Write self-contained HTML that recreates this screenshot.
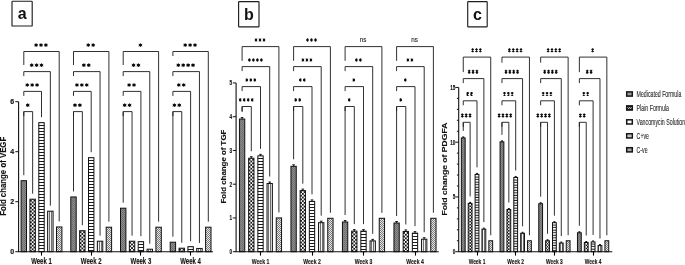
<!DOCTYPE html><html><head><meta charset="utf-8"><style>html,body{margin:0;padding:0;background:#fff;width:685px;height:265px;overflow:hidden;}svg{display:block;filter:grayscale(1)}</style></head><body>
<svg width="685" height="265" viewBox="0 0 685 265" font-family='"Liberation Sans", sans-serif'>
<defs><pattern id="q1" x="0" y="0" width="2" height="2" patternUnits="userSpaceOnUse"><rect width="2" height="2" fill="#8c8c8c"/><rect width="1" height="1" fill="#6a6a6a"/><rect x="1" y="1" width="1" height="1" fill="#747474"/></pattern><pattern id="q2" x="31.75" y="199.8" width="3.6" height="3.6" patternUnits="userSpaceOnUse"><rect width="3.6" height="3.6" fill="#161616"/><rect width="1.8" height="1.8" fill="#fff"/><rect x="1.8" y="1.8" width="1.8" height="1.8" fill="#fff"/></pattern><pattern id="q3" x="0" y="123" width="4" height="3" patternUnits="userSpaceOnUse"><rect width="4" height="3" fill="#fff"/><rect y="2" width="4" height="1" fill="#1a1a1a"/></pattern><pattern id="q4" x="50" y="0" width="2" height="4" patternUnits="userSpaceOnUse"><rect width="2" height="4" fill="#f4f4f4"/><rect x="1" width="1" height="4" fill="#707070"/></pattern><pattern id="q5" x="0" y="0" width="2" height="2" patternUnits="userSpaceOnUse"><rect width="2" height="2" fill="#e6e6e6"/><rect width="1" height="1" fill="#7c7c7c"/><rect x="1" y="1" width="1" height="1" fill="#7c7c7c"/></pattern><pattern id="q6" x="0" y="0" width="2" height="2" patternUnits="userSpaceOnUse"><rect width="2" height="2" fill="#8c8c8c"/><rect width="1" height="1" fill="#6a6a6a"/><rect x="1" y="1" width="1" height="1" fill="#747474"/></pattern><pattern id="q7" x="81.45" y="231.3" width="3.6" height="3.6" patternUnits="userSpaceOnUse"><rect width="3.6" height="3.6" fill="#161616"/><rect width="1.8" height="1.8" fill="#fff"/><rect x="1.8" y="1.8" width="1.8" height="1.8" fill="#fff"/></pattern><pattern id="q8" x="0" y="158" width="4" height="3" patternUnits="userSpaceOnUse"><rect width="4" height="3" fill="#fff"/><rect y="2" width="4" height="1" fill="#1a1a1a"/></pattern><pattern id="q9" x="100" y="0" width="2" height="4" patternUnits="userSpaceOnUse"><rect width="2" height="4" fill="#f4f4f4"/><rect x="1" width="1" height="4" fill="#707070"/></pattern><pattern id="q10" x="0" y="0" width="2" height="2" patternUnits="userSpaceOnUse"><rect width="2" height="2" fill="#e6e6e6"/><rect width="1" height="1" fill="#7c7c7c"/><rect x="1" y="1" width="1" height="1" fill="#7c7c7c"/></pattern><pattern id="q11" x="0" y="0" width="2" height="2" patternUnits="userSpaceOnUse"><rect width="2" height="2" fill="#8c8c8c"/><rect width="1" height="1" fill="#6a6a6a"/><rect x="1" y="1" width="1" height="1" fill="#747474"/></pattern><pattern id="q12" x="131.15" y="241.8" width="3.6" height="3.6" patternUnits="userSpaceOnUse"><rect width="3.6" height="3.6" fill="#161616"/><rect width="1.8" height="1.8" fill="#fff"/><rect x="1.8" y="1.8" width="1.8" height="1.8" fill="#fff"/></pattern><pattern id="q13" x="0" y="242" width="4" height="3" patternUnits="userSpaceOnUse"><rect width="4" height="3" fill="#fff"/><rect y="2" width="4" height="1" fill="#1a1a1a"/></pattern><pattern id="q14" x="149" y="0" width="2" height="4" patternUnits="userSpaceOnUse"><rect width="2" height="4" fill="#f4f4f4"/><rect x="1" width="1" height="4" fill="#707070"/></pattern><pattern id="q15" x="0" y="0" width="2" height="2" patternUnits="userSpaceOnUse"><rect width="2" height="2" fill="#e6e6e6"/><rect width="1" height="1" fill="#7c7c7c"/><rect x="1" y="1" width="1" height="1" fill="#7c7c7c"/></pattern><pattern id="q16" x="0" y="0" width="2" height="2" patternUnits="userSpaceOnUse"><rect width="2" height="2" fill="#8c8c8c"/><rect width="1" height="1" fill="#6a6a6a"/><rect x="1" y="1" width="1" height="1" fill="#747474"/></pattern><pattern id="q17" x="180.85" y="248.8" width="3.6" height="3.6" patternUnits="userSpaceOnUse"><rect width="3.6" height="3.6" fill="#161616"/><rect width="1.8" height="1.8" fill="#fff"/><rect x="1.8" y="1.8" width="1.8" height="1.8" fill="#fff"/></pattern><pattern id="q18" x="0" y="247" width="4" height="3" patternUnits="userSpaceOnUse"><rect width="4" height="3" fill="#fff"/><rect y="2" width="4" height="1" fill="#1a1a1a"/></pattern><pattern id="q19" x="199" y="0" width="2" height="4" patternUnits="userSpaceOnUse"><rect width="2" height="4" fill="#f4f4f4"/><rect x="1" width="1" height="4" fill="#707070"/></pattern><pattern id="q20" x="0" y="0" width="2" height="2" patternUnits="userSpaceOnUse"><rect width="2" height="2" fill="#e6e6e6"/><rect width="1" height="1" fill="#7c7c7c"/><rect x="1" y="1" width="1" height="1" fill="#7c7c7c"/></pattern><pattern id="q21" x="0" y="0" width="2" height="2" patternUnits="userSpaceOnUse"><rect width="2" height="2" fill="#8c8c8c"/><rect width="1" height="1" fill="#6a6a6a"/><rect x="1" y="1" width="1" height="1" fill="#747474"/></pattern><pattern id="q22" x="250.4" y="158.81" width="3.6" height="3.6" patternUnits="userSpaceOnUse"><rect width="3.6" height="3.6" fill="#161616"/><rect width="1.8" height="1.8" fill="#fff"/><rect x="1.8" y="1.8" width="1.8" height="1.8" fill="#fff"/></pattern><pattern id="q23" x="0" y="156" width="4" height="3" patternUnits="userSpaceOnUse"><rect width="4" height="3" fill="#fff"/><rect y="2" width="4" height="1" fill="#1a1a1a"/></pattern><pattern id="q24" x="269" y="0" width="2" height="4" patternUnits="userSpaceOnUse"><rect width="2" height="4" fill="#f4f4f4"/><rect x="1" width="1" height="4" fill="#707070"/></pattern><pattern id="q25" x="0" y="0" width="2" height="2" patternUnits="userSpaceOnUse"><rect width="2" height="2" fill="#e6e6e6"/><rect width="1" height="1" fill="#7c7c7c"/><rect x="1" y="1" width="1" height="1" fill="#7c7c7c"/></pattern><pattern id="q26" x="0" y="0" width="2" height="2" patternUnits="userSpaceOnUse"><rect width="2" height="2" fill="#8c8c8c"/><rect width="1" height="1" fill="#6a6a6a"/><rect x="1" y="1" width="1" height="1" fill="#747474"/></pattern><pattern id="q27" x="301.9" y="191.21" width="3.6" height="3.6" patternUnits="userSpaceOnUse"><rect width="3.6" height="3.6" fill="#161616"/><rect width="1.8" height="1.8" fill="#fff"/><rect x="1.8" y="1.8" width="1.8" height="1.8" fill="#fff"/></pattern><pattern id="q28" x="0" y="202" width="4" height="3" patternUnits="userSpaceOnUse"><rect width="4" height="3" fill="#fff"/><rect y="2" width="4" height="1" fill="#1a1a1a"/></pattern><pattern id="q29" x="321" y="0" width="2" height="4" patternUnits="userSpaceOnUse"><rect width="2" height="4" fill="#f4f4f4"/><rect x="1" width="1" height="4" fill="#707070"/></pattern><pattern id="q30" x="0" y="0" width="2" height="2" patternUnits="userSpaceOnUse"><rect width="2" height="2" fill="#e6e6e6"/><rect width="1" height="1" fill="#7c7c7c"/><rect x="1" y="1" width="1" height="1" fill="#7c7c7c"/></pattern><pattern id="q31" x="0" y="0" width="2" height="2" patternUnits="userSpaceOnUse"><rect width="2" height="2" fill="#8c8c8c"/><rect width="1" height="1" fill="#6a6a6a"/><rect x="1" y="1" width="1" height="1" fill="#747474"/></pattern><pattern id="q32" x="353.4" y="231.71" width="3.6" height="3.6" patternUnits="userSpaceOnUse"><rect width="3.6" height="3.6" fill="#161616"/><rect width="1.8" height="1.8" fill="#fff"/><rect x="1.8" y="1.8" width="1.8" height="1.8" fill="#fff"/></pattern><pattern id="q33" x="0" y="232" width="4" height="3" patternUnits="userSpaceOnUse"><rect width="4" height="3" fill="#fff"/><rect y="2" width="4" height="1" fill="#1a1a1a"/></pattern><pattern id="q34" x="372" y="0" width="2" height="4" patternUnits="userSpaceOnUse"><rect width="2" height="4" fill="#f4f4f4"/><rect x="1" width="1" height="4" fill="#707070"/></pattern><pattern id="q35" x="0" y="0" width="2" height="2" patternUnits="userSpaceOnUse"><rect width="2" height="2" fill="#e6e6e6"/><rect width="1" height="1" fill="#7c7c7c"/><rect x="1" y="1" width="1" height="1" fill="#7c7c7c"/></pattern><pattern id="q36" x="0" y="0" width="2" height="2" patternUnits="userSpaceOnUse"><rect width="2" height="2" fill="#8c8c8c"/><rect width="1" height="1" fill="#6a6a6a"/><rect x="1" y="1" width="1" height="1" fill="#747474"/></pattern><pattern id="q37" x="404.9" y="232.05" width="3.6" height="3.6" patternUnits="userSpaceOnUse"><rect width="3.6" height="3.6" fill="#161616"/><rect width="1.8" height="1.8" fill="#fff"/><rect x="1.8" y="1.8" width="1.8" height="1.8" fill="#fff"/></pattern><pattern id="q38" x="0" y="234" width="4" height="3" patternUnits="userSpaceOnUse"><rect width="4" height="3" fill="#fff"/><rect y="2" width="4" height="1" fill="#1a1a1a"/></pattern><pattern id="q39" x="424" y="0" width="2" height="4" patternUnits="userSpaceOnUse"><rect width="2" height="4" fill="#f4f4f4"/><rect x="1" width="1" height="4" fill="#707070"/></pattern><pattern id="q40" x="0" y="0" width="2" height="2" patternUnits="userSpaceOnUse"><rect width="2" height="2" fill="#e6e6e6"/><rect width="1" height="1" fill="#7c7c7c"/><rect x="1" y="1" width="1" height="1" fill="#7c7c7c"/></pattern><pattern id="q41" x="0" y="0" width="2" height="2" patternUnits="userSpaceOnUse"><rect width="2" height="2" fill="#8c8c8c"/><rect width="1" height="1" fill="#6a6a6a"/><rect x="1" y="1" width="1" height="1" fill="#747474"/></pattern><pattern id="q42" x="469.37" y="204.01" width="3.06" height="3.06" patternUnits="userSpaceOnUse"><rect width="3.06" height="3.06" fill="#161616"/><rect width="1.53" height="1.53" fill="#fff"/><rect x="1.53" y="1.53" width="1.53" height="1.53" fill="#fff"/></pattern><pattern id="q43" x="0" y="175" width="4" height="2.55" patternUnits="userSpaceOnUse"><rect width="4" height="2.55" fill="#fff"/><rect y="1.55" width="4" height="1" fill="#1a1a1a"/></pattern><pattern id="q44" x="483" y="0" width="2" height="4" patternUnits="userSpaceOnUse"><rect width="2" height="4" fill="#f4f4f4"/><rect x="1" width="1" height="4" fill="#707070"/></pattern><pattern id="q45" x="0" y="0" width="2" height="2" patternUnits="userSpaceOnUse"><rect width="2" height="2" fill="#e6e6e6"/><rect width="1" height="1" fill="#7c7c7c"/><rect x="1" y="1" width="1" height="1" fill="#7c7c7c"/></pattern><pattern id="q46" x="0" y="0" width="2" height="2" patternUnits="userSpaceOnUse"><rect width="2" height="2" fill="#8c8c8c"/><rect width="1" height="1" fill="#6a6a6a"/><rect x="1" y="1" width="1" height="1" fill="#747474"/></pattern><pattern id="q47" x="508.07" y="210.14" width="3.06" height="3.06" patternUnits="userSpaceOnUse"><rect width="3.06" height="3.06" fill="#161616"/><rect width="1.53" height="1.53" fill="#fff"/><rect x="1.53" y="1.53" width="1.53" height="1.53" fill="#fff"/></pattern><pattern id="q48" x="0" y="178" width="4" height="2.55" patternUnits="userSpaceOnUse"><rect width="4" height="2.55" fill="#fff"/><rect y="1.55" width="4" height="1" fill="#1a1a1a"/></pattern><pattern id="q49" x="522" y="0" width="2" height="4" patternUnits="userSpaceOnUse"><rect width="2" height="4" fill="#f4f4f4"/><rect x="1" width="1" height="4" fill="#707070"/></pattern><pattern id="q50" x="0" y="0" width="2" height="2" patternUnits="userSpaceOnUse"><rect width="2" height="2" fill="#e6e6e6"/><rect width="1" height="1" fill="#7c7c7c"/><rect x="1" y="1" width="1" height="1" fill="#7c7c7c"/></pattern><pattern id="q51" x="0" y="0" width="2" height="2" patternUnits="userSpaceOnUse"><rect width="2" height="2" fill="#8c8c8c"/><rect width="1" height="1" fill="#6a6a6a"/><rect x="1" y="1" width="1" height="1" fill="#747474"/></pattern><pattern id="q52" x="546.76" y="241.35" width="3.06" height="3.06" patternUnits="userSpaceOnUse"><rect width="3.06" height="3.06" fill="#161616"/><rect width="1.53" height="1.53" fill="#fff"/><rect x="1.53" y="1.53" width="1.53" height="1.53" fill="#fff"/></pattern><pattern id="q53" x="0" y="223" width="4" height="2.55" patternUnits="userSpaceOnUse"><rect width="4" height="2.55" fill="#fff"/><rect y="1.55" width="4" height="1" fill="#1a1a1a"/></pattern><pattern id="q54" x="561" y="0" width="2" height="4" patternUnits="userSpaceOnUse"><rect width="2" height="4" fill="#f4f4f4"/><rect x="1" width="1" height="4" fill="#707070"/></pattern><pattern id="q55" x="0" y="0" width="2" height="2" patternUnits="userSpaceOnUse"><rect width="2" height="2" fill="#e6e6e6"/><rect width="1" height="1" fill="#7c7c7c"/><rect x="1" y="1" width="1" height="1" fill="#7c7c7c"/></pattern><pattern id="q56" x="0" y="0" width="2" height="2" patternUnits="userSpaceOnUse"><rect width="2" height="2" fill="#8c8c8c"/><rect width="1" height="1" fill="#6a6a6a"/><rect x="1" y="1" width="1" height="1" fill="#747474"/></pattern><pattern id="q57" x="585.47" y="243.1" width="3.06" height="3.06" patternUnits="userSpaceOnUse"><rect width="3.06" height="3.06" fill="#161616"/><rect width="1.53" height="1.53" fill="#fff"/><rect x="1.53" y="1.53" width="1.53" height="1.53" fill="#fff"/></pattern><pattern id="q58" x="0" y="242" width="4" height="2.55" patternUnits="userSpaceOnUse"><rect width="4" height="2.55" fill="#fff"/><rect y="1.55" width="4" height="1" fill="#1a1a1a"/></pattern><pattern id="q59" x="599" y="0" width="2" height="4" patternUnits="userSpaceOnUse"><rect width="2" height="4" fill="#f4f4f4"/><rect x="1" width="1" height="4" fill="#707070"/></pattern><pattern id="q60" x="0" y="0" width="2" height="2" patternUnits="userSpaceOnUse"><rect width="2" height="2" fill="#e6e6e6"/><rect width="1" height="1" fill="#7c7c7c"/><rect x="1" y="1" width="1" height="1" fill="#7c7c7c"/></pattern></defs>
<rect width="685" height="265" fill="#fff"/>
<rect x="12" y="1.2" width="20.2" height="24.8" rx="0.6" fill="#fff" stroke="#1e1e1e" stroke-width="1.15"/>
<text x="22.1" y="18.8" font-size="16" font-weight="bold" text-anchor="middle" fill="#111">a</text>
<rect x="21.1" y="180.7" width="5.4" height="71" fill="url(#q1)" stroke="#111" stroke-width="1"/>
<rect x="29.95" y="199.2" width="5.4" height="52.5" fill="url(#q2)" stroke="#111" stroke-width="1"/>
<rect x="38.8" y="122.7" width="5.4" height="129" fill="url(#q3)" stroke="#111" stroke-width="1"/>
<rect x="47.65" y="211.2" width="5.4" height="40.5" fill="url(#q4)" stroke="#111" stroke-width="1"/>
<rect x="56.5" y="226.95" width="5.4" height="24.75" fill="url(#q5)" stroke="#111" stroke-width="1"/>
<path d="M23.8 65V51.5H59.2V221.45" stroke="#1a1a1a" stroke-width="0.9" fill="none"/>
<ellipse cx="36.1" cy="45.1" rx="1.36" ry="1.36" fill="#0a0a0a"/>
<path d="M36.1 43.32V46.88M34.32 44.21L37.88 45.99M34.32 45.99L37.88 44.21" stroke="#0a0a0a" stroke-width="0.8" fill="none"/>
<ellipse cx="41" cy="45.1" rx="1.36" ry="1.36" fill="#0a0a0a"/>
<path d="M41 43.32V46.88M39.22 44.21L42.78 45.99M39.22 45.99L42.78 44.21" stroke="#0a0a0a" stroke-width="0.8" fill="none"/>
<ellipse cx="45.9" cy="45.1" rx="1.36" ry="1.36" fill="#0a0a0a"/>
<path d="M45.9 43.32V46.88M44.12 44.21L47.69 45.99M44.12 45.99L47.69 44.21" stroke="#0a0a0a" stroke-width="0.8" fill="none"/>
<path d="M23.8 76.1V71.6H50.35V205.7" stroke="#1a1a1a" stroke-width="0.9" fill="none"/>
<ellipse cx="31.68" cy="65.2" rx="1.36" ry="1.36" fill="#0a0a0a"/>
<path d="M31.68 63.41V66.98M29.89 64.31L33.46 66.09M29.89 66.09L33.46 64.31" stroke="#0a0a0a" stroke-width="0.8" fill="none"/>
<ellipse cx="36.58" cy="65.2" rx="1.36" ry="1.36" fill="#0a0a0a"/>
<path d="M36.58 63.41V66.98M34.79 64.31L38.36 66.09M34.79 66.09L38.36 64.31" stroke="#0a0a0a" stroke-width="0.8" fill="none"/>
<ellipse cx="41.48" cy="65.2" rx="1.36" ry="1.36" fill="#0a0a0a"/>
<path d="M41.48 63.41V66.98M39.69 64.31L43.26 66.09M39.69 66.09L43.26 64.31" stroke="#0a0a0a" stroke-width="0.8" fill="none"/>
<path d="M23.8 95.9V91.4H41.5V117.2" stroke="#1a1a1a" stroke-width="0.9" fill="none"/>
<ellipse cx="27.25" cy="85" rx="1.36" ry="1.36" fill="#0a0a0a"/>
<path d="M27.25 83.22V86.78M25.46 84.11L29.04 85.89M25.46 85.89L29.04 84.11" stroke="#0a0a0a" stroke-width="0.8" fill="none"/>
<ellipse cx="32.15" cy="85" rx="1.36" ry="1.36" fill="#0a0a0a"/>
<path d="M32.15 83.22V86.78M30.36 84.11L33.93 85.89M30.36 85.89L33.93 84.11" stroke="#0a0a0a" stroke-width="0.8" fill="none"/>
<ellipse cx="37.05" cy="85" rx="1.36" ry="1.36" fill="#0a0a0a"/>
<path d="M37.05 83.22V86.78M35.27 84.11L38.83 85.89M35.27 85.89L38.83 84.11" stroke="#0a0a0a" stroke-width="0.8" fill="none"/>
<path d="M23.8 116.1V111.6H32.65V193.7" stroke="#1a1a1a" stroke-width="0.9" fill="none"/>
<ellipse cx="27.73" cy="105.2" rx="1.36" ry="1.36" fill="#0a0a0a"/>
<path d="M27.73 103.41V106.98M25.94 104.31L29.51 106.09M25.94 106.09L29.51 104.31" stroke="#0a0a0a" stroke-width="0.8" fill="none"/>
<path d="M23.8 111.6V175.2" stroke="#1a1a1a" stroke-width="0.9" fill="none"/>
<path d="M41.5 251.7V255.6" stroke="#000" stroke-width="1.1"/>
<text x="41.5" y="263.8" font-size="8.2" font-weight="bold" text-anchor="middle" textLength="20.7" lengthAdjust="spacingAndGlyphs" fill="#111" stroke="#111" stroke-width="0.12">Week 1</text>
<rect x="70.8" y="196.95" width="5.4" height="54.75" fill="url(#q6)" stroke="#111" stroke-width="1"/>
<rect x="79.65" y="230.7" width="5.4" height="21" fill="url(#q7)" stroke="#111" stroke-width="1"/>
<rect x="88.5" y="157.7" width="5.4" height="94" fill="url(#q8)" stroke="#111" stroke-width="1"/>
<rect x="97.35" y="241.2" width="5.4" height="10.5" fill="url(#q9)" stroke="#111" stroke-width="1"/>
<rect x="106.2" y="227.2" width="5.4" height="24.5" fill="url(#q10)" stroke="#111" stroke-width="1"/>
<path d="M73.5 65V51.5H108.9V221.7" stroke="#1a1a1a" stroke-width="0.9" fill="none"/>
<ellipse cx="88.25" cy="45.1" rx="1.36" ry="1.36" fill="#0a0a0a"/>
<path d="M88.25 43.32V46.88M86.47 44.21L90.03 45.99M86.47 45.99L90.03 44.21" stroke="#0a0a0a" stroke-width="0.8" fill="none"/>
<ellipse cx="93.15" cy="45.1" rx="1.36" ry="1.36" fill="#0a0a0a"/>
<path d="M93.15 43.32V46.88M91.37 44.21L94.94 45.99M91.37 45.99L94.94 44.21" stroke="#0a0a0a" stroke-width="0.8" fill="none"/>
<path d="M73.5 76.1V71.6H100.05V235.7" stroke="#1a1a1a" stroke-width="0.9" fill="none"/>
<ellipse cx="83.83" cy="65.2" rx="1.36" ry="1.36" fill="#0a0a0a"/>
<path d="M83.83 63.41V66.98M82.04 64.31L85.61 66.09M82.04 66.09L85.61 64.31" stroke="#0a0a0a" stroke-width="0.8" fill="none"/>
<ellipse cx="88.73" cy="65.2" rx="1.36" ry="1.36" fill="#0a0a0a"/>
<path d="M88.73 63.41V66.98M86.94 64.31L90.51 66.09M86.94 66.09L90.51 64.31" stroke="#0a0a0a" stroke-width="0.8" fill="none"/>
<path d="M73.5 95.9V91.4H91.2V152.2" stroke="#1a1a1a" stroke-width="0.9" fill="none"/>
<ellipse cx="76.95" cy="85" rx="1.36" ry="1.36" fill="#0a0a0a"/>
<path d="M76.95 83.22V86.78M75.16 84.11L78.73 85.89M75.16 85.89L78.73 84.11" stroke="#0a0a0a" stroke-width="0.8" fill="none"/>
<ellipse cx="81.85" cy="85" rx="1.36" ry="1.36" fill="#0a0a0a"/>
<path d="M81.85 83.22V86.78M80.06 84.11L83.63 85.89M80.06 85.89L83.63 84.11" stroke="#0a0a0a" stroke-width="0.8" fill="none"/>
<ellipse cx="86.75" cy="85" rx="1.36" ry="1.36" fill="#0a0a0a"/>
<path d="M86.75 83.22V86.78M84.96 84.11L88.53 85.89M84.96 85.89L88.53 84.11" stroke="#0a0a0a" stroke-width="0.8" fill="none"/>
<path d="M73.5 116.1V111.6H82.35V225.2" stroke="#1a1a1a" stroke-width="0.9" fill="none"/>
<ellipse cx="74.98" cy="105.2" rx="1.36" ry="1.36" fill="#0a0a0a"/>
<path d="M74.98 103.41V106.98M73.19 104.31L76.76 106.09M73.19 106.09L76.76 104.31" stroke="#0a0a0a" stroke-width="0.8" fill="none"/>
<ellipse cx="79.88" cy="105.2" rx="1.36" ry="1.36" fill="#0a0a0a"/>
<path d="M79.88 103.41V106.98M78.09 104.31L81.66 106.09M78.09 106.09L81.66 104.31" stroke="#0a0a0a" stroke-width="0.8" fill="none"/>
<path d="M73.5 111.6V191.45" stroke="#1a1a1a" stroke-width="0.9" fill="none"/>
<path d="M91.5 251.7V255.6" stroke="#000" stroke-width="1.1"/>
<text x="91.2" y="263.8" font-size="8.2" font-weight="bold" text-anchor="middle" textLength="20.7" lengthAdjust="spacingAndGlyphs" fill="#111" stroke="#111" stroke-width="0.12">Week 2</text>
<rect x="120.5" y="208.2" width="5.4" height="43.5" fill="url(#q11)" stroke="#111" stroke-width="1"/>
<rect x="129.35" y="241.2" width="5.4" height="10.5" fill="url(#q12)" stroke="#111" stroke-width="1"/>
<rect x="138.2" y="241.7" width="5.4" height="10" fill="url(#q13)" stroke="#111" stroke-width="1"/>
<rect x="147.05" y="249.2" width="5.4" height="2.5" fill="url(#q14)" stroke="#111" stroke-width="1"/>
<rect x="155.9" y="227.2" width="5.4" height="24.5" fill="url(#q15)" stroke="#111" stroke-width="1"/>
<path d="M123.2 65V51.5H158.6V221.7" stroke="#1a1a1a" stroke-width="0.9" fill="none"/>
<ellipse cx="140.4" cy="45.1" rx="1.36" ry="1.36" fill="#0a0a0a"/>
<path d="M140.4 43.32V46.88M138.62 44.21L142.19 45.99M138.62 45.99L142.19 44.21" stroke="#0a0a0a" stroke-width="0.8" fill="none"/>
<path d="M123.2 76.1V71.6H149.75V243.7" stroke="#1a1a1a" stroke-width="0.9" fill="none"/>
<ellipse cx="133.53" cy="65.2" rx="1.36" ry="1.36" fill="#0a0a0a"/>
<path d="M133.53 63.41V66.98M131.74 64.31L135.31 66.09M131.74 66.09L135.31 64.31" stroke="#0a0a0a" stroke-width="0.8" fill="none"/>
<ellipse cx="138.43" cy="65.2" rx="1.36" ry="1.36" fill="#0a0a0a"/>
<path d="M138.43 63.41V66.98M136.64 64.31L140.21 66.09M136.64 66.09L140.21 64.31" stroke="#0a0a0a" stroke-width="0.8" fill="none"/>
<path d="M123.2 95.9V91.4H140.9V236.2" stroke="#1a1a1a" stroke-width="0.9" fill="none"/>
<ellipse cx="129.1" cy="85" rx="1.36" ry="1.36" fill="#0a0a0a"/>
<path d="M129.1 83.22V86.78M127.32 84.11L130.89 85.89M127.32 85.89L130.89 84.11" stroke="#0a0a0a" stroke-width="0.8" fill="none"/>
<ellipse cx="134" cy="85" rx="1.36" ry="1.36" fill="#0a0a0a"/>
<path d="M134 83.22V86.78M132.22 84.11L135.79 85.89M132.22 85.89L135.79 84.11" stroke="#0a0a0a" stroke-width="0.8" fill="none"/>
<path d="M123.2 116.1V111.6H132.05V235.7" stroke="#1a1a1a" stroke-width="0.9" fill="none"/>
<ellipse cx="124.67" cy="105.2" rx="1.36" ry="1.36" fill="#0a0a0a"/>
<path d="M124.67 103.41V106.98M122.89 104.31L126.46 106.09M122.89 106.09L126.46 104.31" stroke="#0a0a0a" stroke-width="0.8" fill="none"/>
<ellipse cx="129.57" cy="105.2" rx="1.36" ry="1.36" fill="#0a0a0a"/>
<path d="M129.57 103.41V106.98M127.79 104.31L131.36 106.09M127.79 106.09L131.36 104.31" stroke="#0a0a0a" stroke-width="0.8" fill="none"/>
<path d="M123.2 111.6V202.7" stroke="#1a1a1a" stroke-width="0.9" fill="none"/>
<path d="M140.5 251.7V255.6" stroke="#000" stroke-width="1.1"/>
<text x="140.9" y="263.8" font-size="8.2" font-weight="bold" text-anchor="middle" textLength="20.7" lengthAdjust="spacingAndGlyphs" fill="#111" stroke="#111" stroke-width="0.12">Week 3</text>
<rect x="170.2" y="242.2" width="5.4" height="9.5" fill="url(#q16)" stroke="#111" stroke-width="1"/>
<rect x="179.05" y="248.2" width="5.4" height="3.5" fill="url(#q17)" stroke="#111" stroke-width="1"/>
<rect x="187.9" y="246.7" width="5.4" height="5" fill="url(#q18)" stroke="#111" stroke-width="1"/>
<rect x="196.75" y="248.45" width="5.4" height="3.25" fill="url(#q19)" stroke="#111" stroke-width="1"/>
<rect x="205.6" y="227.2" width="5.4" height="24.5" fill="url(#q20)" stroke="#111" stroke-width="1"/>
<path d="M172.9 56V51.5H208.3V221.7" stroke="#1a1a1a" stroke-width="0.9" fill="none"/>
<ellipse cx="185.2" cy="45.1" rx="1.36" ry="1.36" fill="#0a0a0a"/>
<path d="M185.2 43.32V46.88M183.42 44.21L186.99 45.99M183.42 45.99L186.99 44.21" stroke="#0a0a0a" stroke-width="0.8" fill="none"/>
<ellipse cx="190.1" cy="45.1" rx="1.36" ry="1.36" fill="#0a0a0a"/>
<path d="M190.1 43.32V46.88M188.32 44.21L191.89 45.99M188.32 45.99L191.89 44.21" stroke="#0a0a0a" stroke-width="0.8" fill="none"/>
<ellipse cx="195" cy="45.1" rx="1.36" ry="1.36" fill="#0a0a0a"/>
<path d="M195 43.32V46.88M193.22 44.21L196.79 45.99M193.22 45.99L196.79 44.21" stroke="#0a0a0a" stroke-width="0.8" fill="none"/>
<path d="M172.9 76.1V71.6H199.45V242.95" stroke="#1a1a1a" stroke-width="0.9" fill="none"/>
<ellipse cx="178.33" cy="65.2" rx="1.36" ry="1.36" fill="#0a0a0a"/>
<path d="M178.33 63.41V66.98M176.54 64.31L180.11 66.09M176.54 66.09L180.11 64.31" stroke="#0a0a0a" stroke-width="0.8" fill="none"/>
<ellipse cx="183.23" cy="65.2" rx="1.36" ry="1.36" fill="#0a0a0a"/>
<path d="M183.23 63.41V66.98M181.44 64.31L185.01 66.09M181.44 66.09L185.01 64.31" stroke="#0a0a0a" stroke-width="0.8" fill="none"/>
<ellipse cx="188.13" cy="65.2" rx="1.36" ry="1.36" fill="#0a0a0a"/>
<path d="M188.13 63.41V66.98M186.34 64.31L189.91 66.09M186.34 66.09L189.91 64.31" stroke="#0a0a0a" stroke-width="0.8" fill="none"/>
<ellipse cx="193.03" cy="65.2" rx="1.36" ry="1.36" fill="#0a0a0a"/>
<path d="M193.03 63.41V66.98M191.24 64.31L194.81 66.09M191.24 66.09L194.81 64.31" stroke="#0a0a0a" stroke-width="0.8" fill="none"/>
<path d="M172.9 95.9V91.4H190.6V241.2" stroke="#1a1a1a" stroke-width="0.9" fill="none"/>
<ellipse cx="178.8" cy="85" rx="1.36" ry="1.36" fill="#0a0a0a"/>
<path d="M178.8 83.22V86.78M177.02 84.11L180.59 85.89M177.02 85.89L180.59 84.11" stroke="#0a0a0a" stroke-width="0.8" fill="none"/>
<ellipse cx="183.7" cy="85" rx="1.36" ry="1.36" fill="#0a0a0a"/>
<path d="M183.7 83.22V86.78M181.92 84.11L185.49 85.89M181.92 85.89L185.49 84.11" stroke="#0a0a0a" stroke-width="0.8" fill="none"/>
<path d="M172.9 116.1V111.6H181.75V242.7" stroke="#1a1a1a" stroke-width="0.9" fill="none"/>
<ellipse cx="174.38" cy="105.2" rx="1.36" ry="1.36" fill="#0a0a0a"/>
<path d="M174.38 103.41V106.98M172.59 104.31L176.16 106.09M172.59 106.09L176.16 104.31" stroke="#0a0a0a" stroke-width="0.8" fill="none"/>
<ellipse cx="179.28" cy="105.2" rx="1.36" ry="1.36" fill="#0a0a0a"/>
<path d="M179.28 103.41V106.98M177.49 104.31L181.06 106.09M177.49 106.09L181.06 104.31" stroke="#0a0a0a" stroke-width="0.8" fill="none"/>
<path d="M172.9 111.6V236.7" stroke="#1a1a1a" stroke-width="0.9" fill="none"/>
<path d="M190.5 251.7V255.6" stroke="#000" stroke-width="1.1"/>
<text x="190.6" y="263.8" font-size="8.2" font-weight="bold" text-anchor="middle" textLength="20.7" lengthAdjust="spacingAndGlyphs" fill="#111" stroke="#111" stroke-width="0.12">Week 4</text>
<path d="M18.6 101.7V251.7H213" stroke="#111" stroke-width="1.1" fill="none"/>
<path d="M15.3 251.7H18.6" stroke="#111" stroke-width="1"/>
<text x="14.2" y="254.2" font-size="7" font-weight="bold" text-anchor="end" fill="#111" stroke="#111" stroke-width="0.15">0</text>
<path d="M15.3 201.7H18.6" stroke="#111" stroke-width="1"/>
<text x="14.2" y="204.2" font-size="7" font-weight="bold" text-anchor="end" fill="#111" stroke="#111" stroke-width="0.15">2</text>
<path d="M15.3 151.7H18.6" stroke="#111" stroke-width="1"/>
<text x="14.2" y="154.2" font-size="7" font-weight="bold" text-anchor="end" fill="#111" stroke="#111" stroke-width="0.15">4</text>
<path d="M15.3 101.7H18.6" stroke="#111" stroke-width="1"/>
<text x="14.2" y="104.2" font-size="7" font-weight="bold" text-anchor="end" fill="#111" stroke="#111" stroke-width="0.15">6</text>
<text transform="translate(5.8 176.3) rotate(-90)" x="0" y="0" font-size="8.6" font-weight="bold" text-anchor="middle" textLength="79" lengthAdjust="spacingAndGlyphs" fill="#111" stroke="#111" stroke-width="0.12">Fold change of VEGF</text>
<rect x="238.6" y="1.6" width="20.4" height="25.3" rx="0.6" fill="#fff" stroke="#1e1e1e" stroke-width="1.15"/>
<text x="248.8" y="19.6" font-size="16" font-weight="bold" text-anchor="middle" fill="#111">b</text>
<rect x="239.45" y="119.06" width="5.3" height="132.64" fill="url(#q21)" stroke="#111" stroke-width="1"/>
<path d="M242.1 119.06V117.56M240.8 117.56H243.4" stroke="#111" stroke-width="0.95"/>
<rect x="248.65" y="158.21" width="5.3" height="93.49" fill="url(#q22)" stroke="#111" stroke-width="1"/>
<path d="M251.3 158.21V156.71M250 156.71H252.6" stroke="#111" stroke-width="0.95"/>
<rect x="257.85" y="155.85" width="5.3" height="95.85" fill="url(#q23)" stroke="#111" stroke-width="1"/>
<path d="M260.5 155.85V154.35M259.2 154.35H261.8" stroke="#111" stroke-width="0.95"/>
<rect x="267.05" y="183.52" width="5.3" height="68.18" fill="url(#q24)" stroke="#111" stroke-width="1"/>
<path d="M269.7 183.52V182.02M268.4 182.02H271" stroke="#111" stroke-width="0.95"/>
<rect x="276.25" y="217.95" width="5.3" height="33.75" fill="url(#q25)" stroke="#111" stroke-width="1"/>
<path d="M242.1 60.8V46.6H278.9V212.45" stroke="#1a1a1a" stroke-width="0.9" fill="none"/>
<ellipse cx="256" cy="40" rx="0.96" ry="1.32" fill="#0a0a0a"/>
<path d="M256 38.27V41.73M254.74 39.13L257.26 40.87M254.74 40.87L257.26 39.13" stroke="#0a0a0a" stroke-width="0.8" fill="none"/>
<ellipse cx="260" cy="40" rx="0.96" ry="1.32" fill="#0a0a0a"/>
<path d="M260 38.27V41.73M258.74 39.13L261.26 40.87M258.74 40.87L261.26 39.13" stroke="#0a0a0a" stroke-width="0.8" fill="none"/>
<ellipse cx="264" cy="40" rx="0.96" ry="1.32" fill="#0a0a0a"/>
<path d="M264 38.27V41.73M262.74 39.13L265.26 40.87M262.74 40.87L265.26 39.13" stroke="#0a0a0a" stroke-width="0.8" fill="none"/>
<path d="M242.1 71.1V66.6H269.7V176.52" stroke="#1a1a1a" stroke-width="0.9" fill="none"/>
<ellipse cx="249.4" cy="60" rx="0.96" ry="1.32" fill="#0a0a0a"/>
<path d="M249.4 58.27V61.73M248.14 59.13L250.66 60.87M248.14 60.87L250.66 59.13" stroke="#0a0a0a" stroke-width="0.8" fill="none"/>
<ellipse cx="253.4" cy="60" rx="0.96" ry="1.32" fill="#0a0a0a"/>
<path d="M253.4 58.27V61.73M252.14 59.13L254.66 60.87M252.14 60.87L254.66 59.13" stroke="#0a0a0a" stroke-width="0.8" fill="none"/>
<ellipse cx="257.4" cy="60" rx="0.96" ry="1.32" fill="#0a0a0a"/>
<path d="M257.4 58.27V61.73M256.14 59.13L258.66 60.87M256.14 60.87L258.66 59.13" stroke="#0a0a0a" stroke-width="0.8" fill="none"/>
<ellipse cx="261.4" cy="60" rx="0.96" ry="1.32" fill="#0a0a0a"/>
<path d="M261.4 58.27V61.73M260.14 59.13L262.66 60.87M260.14 60.87L262.66 59.13" stroke="#0a0a0a" stroke-width="0.8" fill="none"/>
<path d="M242.1 91.1V86.6H260.5V148.85" stroke="#1a1a1a" stroke-width="0.9" fill="none"/>
<ellipse cx="246.8" cy="80" rx="0.96" ry="1.32" fill="#0a0a0a"/>
<path d="M246.8 78.27V81.73M245.54 79.13L248.06 80.87M245.54 80.87L248.06 79.13" stroke="#0a0a0a" stroke-width="0.8" fill="none"/>
<ellipse cx="250.8" cy="80" rx="0.96" ry="1.32" fill="#0a0a0a"/>
<path d="M250.8 78.27V81.73M249.54 79.13L252.06 80.87M249.54 80.87L252.06 79.13" stroke="#0a0a0a" stroke-width="0.8" fill="none"/>
<ellipse cx="254.8" cy="80" rx="0.96" ry="1.32" fill="#0a0a0a"/>
<path d="M254.8 78.27V81.73M253.54 79.13L256.06 80.87M253.54 80.87L256.06 79.13" stroke="#0a0a0a" stroke-width="0.8" fill="none"/>
<path d="M242.1 111V106.5H251.3V151.21" stroke="#1a1a1a" stroke-width="0.9" fill="none"/>
<ellipse cx="240.2" cy="99.9" rx="0.96" ry="1.32" fill="#0a0a0a"/>
<path d="M240.2 98.17V101.63M238.94 99.03L241.46 100.77M238.94 100.77L241.46 99.03" stroke="#0a0a0a" stroke-width="0.8" fill="none"/>
<ellipse cx="244.2" cy="99.9" rx="0.96" ry="1.32" fill="#0a0a0a"/>
<path d="M244.2 98.17V101.63M242.94 99.03L245.46 100.77M242.94 100.77L245.46 99.03" stroke="#0a0a0a" stroke-width="0.8" fill="none"/>
<ellipse cx="248.2" cy="99.9" rx="0.96" ry="1.32" fill="#0a0a0a"/>
<path d="M248.2 98.17V101.63M246.94 99.03L249.46 100.77M246.94 100.77L249.46 99.03" stroke="#0a0a0a" stroke-width="0.8" fill="none"/>
<ellipse cx="252.2" cy="99.9" rx="0.96" ry="1.32" fill="#0a0a0a"/>
<path d="M252.2 98.17V101.63M250.94 99.03L253.46 100.77M250.94 100.77L253.46 99.03" stroke="#0a0a0a" stroke-width="0.8" fill="none"/>
<path d="M242.1 106.5V112.06" stroke="#1a1a1a" stroke-width="0.9" fill="none"/>
<path d="M260.5 251.7V255.6" stroke="#000" stroke-width="1.1"/>
<text x="260.5" y="263.5" font-size="7.6" font-weight="bold" text-anchor="middle" textLength="17.6" lengthAdjust="spacingAndGlyphs" fill="#111" stroke="#111" stroke-width="0.12">Week 1</text>
<rect x="290.95" y="166.31" width="5.3" height="85.39" fill="url(#q26)" stroke="#111" stroke-width="1"/>
<path d="M293.6 166.31V164.81M292.3 164.81H294.9" stroke="#111" stroke-width="0.95"/>
<rect x="300.15" y="190.61" width="5.3" height="61.09" fill="url(#q27)" stroke="#111" stroke-width="1"/>
<path d="M302.8 190.61V189.11M301.5 189.11H304.1" stroke="#111" stroke-width="0.95"/>
<rect x="309.35" y="201.41" width="5.3" height="50.29" fill="url(#q28)" stroke="#111" stroke-width="1"/>
<path d="M312 201.41V199.91M310.7 199.91H313.3" stroke="#111" stroke-width="0.95"/>
<rect x="318.55" y="222.67" width="5.3" height="29.03" fill="url(#q29)" stroke="#111" stroke-width="1"/>
<path d="M321.2 222.67V221.17M319.9 221.17H322.5" stroke="#111" stroke-width="0.95"/>
<rect x="327.75" y="218.29" width="5.3" height="33.41" fill="url(#q30)" stroke="#111" stroke-width="1"/>
<path d="M293.6 60.8V46.6H330.4V212.79" stroke="#1a1a1a" stroke-width="0.9" fill="none"/>
<ellipse cx="307.5" cy="40" rx="0.96" ry="1.32" fill="#0a0a0a"/>
<path d="M307.5 38.27V41.73M306.24 39.13L308.76 40.87M306.24 40.87L308.76 39.13" stroke="#0a0a0a" stroke-width="0.8" fill="none"/>
<ellipse cx="311.5" cy="40" rx="0.96" ry="1.32" fill="#0a0a0a"/>
<path d="M311.5 38.27V41.73M310.24 39.13L312.76 40.87M310.24 40.87L312.76 39.13" stroke="#0a0a0a" stroke-width="0.8" fill="none"/>
<ellipse cx="315.5" cy="40" rx="0.96" ry="1.32" fill="#0a0a0a"/>
<path d="M315.5 38.27V41.73M314.24 39.13L316.76 40.87M314.24 40.87L316.76 39.13" stroke="#0a0a0a" stroke-width="0.8" fill="none"/>
<path d="M293.6 71.1V66.6H321.2V215.67" stroke="#1a1a1a" stroke-width="0.9" fill="none"/>
<ellipse cx="302.9" cy="60" rx="0.96" ry="1.32" fill="#0a0a0a"/>
<path d="M302.9 58.27V61.73M301.64 59.13L304.16 60.87M301.64 60.87L304.16 59.13" stroke="#0a0a0a" stroke-width="0.8" fill="none"/>
<ellipse cx="306.9" cy="60" rx="0.96" ry="1.32" fill="#0a0a0a"/>
<path d="M306.9 58.27V61.73M305.64 59.13L308.16 60.87M305.64 60.87L308.16 59.13" stroke="#0a0a0a" stroke-width="0.8" fill="none"/>
<ellipse cx="310.9" cy="60" rx="0.96" ry="1.32" fill="#0a0a0a"/>
<path d="M310.9 58.27V61.73M309.64 59.13L312.16 60.87M309.64 60.87L312.16 59.13" stroke="#0a0a0a" stroke-width="0.8" fill="none"/>
<path d="M293.6 91.1V86.6H312V194.41" stroke="#1a1a1a" stroke-width="0.9" fill="none"/>
<ellipse cx="300.3" cy="80" rx="0.96" ry="1.32" fill="#0a0a0a"/>
<path d="M300.3 78.27V81.73M299.04 79.13L301.56 80.87M299.04 80.87L301.56 79.13" stroke="#0a0a0a" stroke-width="0.8" fill="none"/>
<ellipse cx="304.3" cy="80" rx="0.96" ry="1.32" fill="#0a0a0a"/>
<path d="M304.3 78.27V81.73M303.04 79.13L305.56 80.87M303.04 80.87L305.56 79.13" stroke="#0a0a0a" stroke-width="0.8" fill="none"/>
<path d="M293.6 111V106.5H302.8V183.61" stroke="#1a1a1a" stroke-width="0.9" fill="none"/>
<ellipse cx="295.7" cy="99.9" rx="0.96" ry="1.32" fill="#0a0a0a"/>
<path d="M295.7 98.17V101.63M294.44 99.03L296.96 100.77M294.44 100.77L296.96 99.03" stroke="#0a0a0a" stroke-width="0.8" fill="none"/>
<ellipse cx="299.7" cy="99.9" rx="0.96" ry="1.32" fill="#0a0a0a"/>
<path d="M299.7 98.17V101.63M298.44 99.03L300.96 100.77M298.44 100.77L300.96 99.03" stroke="#0a0a0a" stroke-width="0.8" fill="none"/>
<path d="M293.6 106.5V159.31" stroke="#1a1a1a" stroke-width="0.9" fill="none"/>
<path d="M312.5 251.7V255.6" stroke="#000" stroke-width="1.1"/>
<text x="312" y="263.5" font-size="7.6" font-weight="bold" text-anchor="middle" textLength="17.6" lengthAdjust="spacingAndGlyphs" fill="#111" stroke="#111" stroke-width="0.12">Week 2</text>
<rect x="342.45" y="222" width="5.3" height="29.7" fill="url(#q31)" stroke="#111" stroke-width="1"/>
<path d="M345.1 222V220.5M343.8 220.5H346.4" stroke="#111" stroke-width="0.95"/>
<rect x="351.65" y="231.11" width="5.3" height="20.59" fill="url(#q32)" stroke="#111" stroke-width="1"/>
<path d="M354.3 231.11V229.61M353 229.61H355.6" stroke="#111" stroke-width="0.95"/>
<rect x="360.85" y="231.11" width="5.3" height="20.59" fill="url(#q33)" stroke="#111" stroke-width="1"/>
<path d="M363.5 231.11V229.61M362.2 229.61H364.8" stroke="#111" stroke-width="0.95"/>
<rect x="370.05" y="240.9" width="5.3" height="10.8" fill="url(#q34)" stroke="#111" stroke-width="1"/>
<path d="M372.7 240.9V239.4M371.4 239.4H374" stroke="#111" stroke-width="0.95"/>
<rect x="379.25" y="218.29" width="5.3" height="33.41" fill="url(#q35)" stroke="#111" stroke-width="1"/>
<path d="M345.1 60.8V46.6H381.9V212.79" stroke="#1a1a1a" stroke-width="0.9" fill="none"/>
<text x="363" y="42.4" font-size="7.6" text-anchor="middle" textLength="6.6" lengthAdjust="spacingAndGlyphs" fill="#222" stroke="#222" stroke-width="0.12">ns</text>
<path d="M345.1 71.1V66.6H372.7V233.9" stroke="#1a1a1a" stroke-width="0.9" fill="none"/>
<ellipse cx="356.4" cy="60" rx="0.96" ry="1.32" fill="#0a0a0a"/>
<path d="M356.4 58.27V61.73M355.14 59.13L357.66 60.87M355.14 60.87L357.66 59.13" stroke="#0a0a0a" stroke-width="0.8" fill="none"/>
<ellipse cx="360.4" cy="60" rx="0.96" ry="1.32" fill="#0a0a0a"/>
<path d="M360.4 58.27V61.73M359.14 59.13L361.66 60.87M359.14 60.87L361.66 59.13" stroke="#0a0a0a" stroke-width="0.8" fill="none"/>
<path d="M345.1 91.1V86.6H363.5V224.11" stroke="#1a1a1a" stroke-width="0.9" fill="none"/>
<ellipse cx="353.8" cy="80" rx="0.96" ry="1.32" fill="#0a0a0a"/>
<path d="M353.8 78.27V81.73M352.54 79.13L355.06 80.87M352.54 80.87L355.06 79.13" stroke="#0a0a0a" stroke-width="0.8" fill="none"/>
<path d="M345.1 111V106.5H354.3V224.11" stroke="#1a1a1a" stroke-width="0.9" fill="none"/>
<ellipse cx="349.2" cy="99.9" rx="0.96" ry="1.32" fill="#0a0a0a"/>
<path d="M349.2 98.17V101.63M347.94 99.03L350.46 100.77M347.94 100.77L350.46 99.03" stroke="#0a0a0a" stroke-width="0.8" fill="none"/>
<path d="M345.1 106.5V215" stroke="#1a1a1a" stroke-width="0.9" fill="none"/>
<path d="M363.5 251.7V255.6" stroke="#000" stroke-width="1.1"/>
<text x="363.5" y="263.5" font-size="7.6" font-weight="bold" text-anchor="middle" textLength="17.6" lengthAdjust="spacingAndGlyphs" fill="#111" stroke="#111" stroke-width="0.12">Week 3</text>
<rect x="393.95" y="223.01" width="5.3" height="28.69" fill="url(#q36)" stroke="#111" stroke-width="1"/>
<path d="M396.6 223.01V221.51M395.3 221.51H397.9" stroke="#111" stroke-width="0.95"/>
<rect x="403.15" y="231.45" width="5.3" height="20.25" fill="url(#q37)" stroke="#111" stroke-width="1"/>
<path d="M405.8 231.45V229.95M404.5 229.95H407.1" stroke="#111" stroke-width="0.95"/>
<rect x="412.35" y="233.14" width="5.3" height="18.56" fill="url(#q38)" stroke="#111" stroke-width="1"/>
<path d="M415 233.14V231.64M413.7 231.64H416.3" stroke="#111" stroke-width="0.95"/>
<rect x="421.55" y="239.21" width="5.3" height="12.49" fill="url(#q39)" stroke="#111" stroke-width="1"/>
<path d="M424.2 239.21V237.71M422.9 237.71H425.5" stroke="#111" stroke-width="0.95"/>
<rect x="430.75" y="218.29" width="5.3" height="33.41" fill="url(#q40)" stroke="#111" stroke-width="1"/>
<path d="M396.6 60.8V46.6H433.4V212.79" stroke="#1a1a1a" stroke-width="0.9" fill="none"/>
<text x="414.5" y="42.4" font-size="7.6" text-anchor="middle" textLength="6.6" lengthAdjust="spacingAndGlyphs" fill="#222" stroke="#222" stroke-width="0.12">ns</text>
<path d="M396.6 71.1V66.6H424.2V232.21" stroke="#1a1a1a" stroke-width="0.9" fill="none"/>
<ellipse cx="407.9" cy="60" rx="0.96" ry="1.32" fill="#0a0a0a"/>
<path d="M407.9 58.27V61.73M406.64 59.13L409.16 60.87M406.64 60.87L409.16 59.13" stroke="#0a0a0a" stroke-width="0.8" fill="none"/>
<ellipse cx="411.9" cy="60" rx="0.96" ry="1.32" fill="#0a0a0a"/>
<path d="M411.9 58.27V61.73M410.64 59.13L413.16 60.87M410.64 60.87L413.16 59.13" stroke="#0a0a0a" stroke-width="0.8" fill="none"/>
<path d="M396.6 91.1V86.6H415V226.14" stroke="#1a1a1a" stroke-width="0.9" fill="none"/>
<ellipse cx="405.3" cy="80" rx="0.96" ry="1.32" fill="#0a0a0a"/>
<path d="M405.3 78.27V81.73M404.04 79.13L406.56 80.87M404.04 80.87L406.56 79.13" stroke="#0a0a0a" stroke-width="0.8" fill="none"/>
<path d="M396.6 111V106.5H405.8V224.45" stroke="#1a1a1a" stroke-width="0.9" fill="none"/>
<ellipse cx="400.7" cy="99.9" rx="0.96" ry="1.32" fill="#0a0a0a"/>
<path d="M400.7 98.17V101.63M399.44 99.03L401.96 100.77M399.44 100.77L401.96 99.03" stroke="#0a0a0a" stroke-width="0.8" fill="none"/>
<path d="M396.6 106.5V216.01" stroke="#1a1a1a" stroke-width="0.9" fill="none"/>
<path d="M415.5 251.7V255.6" stroke="#000" stroke-width="1.1"/>
<text x="415" y="263.5" font-size="7.6" font-weight="bold" text-anchor="middle" textLength="17.6" lengthAdjust="spacingAndGlyphs" fill="#111" stroke="#111" stroke-width="0.12">Week 4</text>
<path d="M236.1 82.95V251.7H438.8" stroke="#111" stroke-width="1.1" fill="none"/>
<path d="M232.8 251.7H236.1" stroke="#111" stroke-width="1"/>
<text x="232.2" y="254.2" font-size="7" font-weight="bold" text-anchor="end" textLength="2.6" lengthAdjust="spacingAndGlyphs" fill="#111" stroke="#111" stroke-width="0.15">0</text>
<path d="M232.8 217.95H236.1" stroke="#111" stroke-width="1"/>
<text x="232.2" y="220.45" font-size="7" font-weight="bold" text-anchor="end" textLength="2.6" lengthAdjust="spacingAndGlyphs" fill="#111" stroke="#111" stroke-width="0.15">1</text>
<path d="M232.8 184.2H236.1" stroke="#111" stroke-width="1"/>
<text x="232.2" y="186.7" font-size="7" font-weight="bold" text-anchor="end" textLength="2.6" lengthAdjust="spacingAndGlyphs" fill="#111" stroke="#111" stroke-width="0.15">2</text>
<path d="M232.8 150.45H236.1" stroke="#111" stroke-width="1"/>
<text x="232.2" y="152.95" font-size="7" font-weight="bold" text-anchor="end" textLength="2.6" lengthAdjust="spacingAndGlyphs" fill="#111" stroke="#111" stroke-width="0.15">3</text>
<path d="M232.8 116.7H236.1" stroke="#111" stroke-width="1"/>
<text x="232.2" y="119.2" font-size="7" font-weight="bold" text-anchor="end" textLength="2.6" lengthAdjust="spacingAndGlyphs" fill="#111" stroke="#111" stroke-width="0.15">4</text>
<path d="M232.8 82.95H236.1" stroke="#111" stroke-width="1"/>
<text x="232.2" y="85.45" font-size="7" font-weight="bold" text-anchor="end" textLength="2.6" lengthAdjust="spacingAndGlyphs" fill="#111" stroke="#111" stroke-width="0.15">5</text>
<text transform="translate(225.8 166.65) rotate(-90)" x="0" y="0" font-size="7.6" font-weight="bold" text-anchor="middle" textLength="73.9" lengthAdjust="spacingAndGlyphs" fill="#111" stroke="#111" stroke-width="0.12">Fold change of TGF</text>
<rect x="467.7" y="1.6" width="19.5" height="25.3" rx="0.6" fill="#fff" stroke="#1e1e1e" stroke-width="1.15"/>
<text x="477.45" y="19.7" font-size="16" font-weight="bold" text-anchor="middle" fill="#111">c</text>
<rect x="461.36" y="137.93" width="3.8" height="113.77" fill="url(#q41)" stroke="#111" stroke-width="1"/>
<path d="M463.26 137.93V136.93M462.26 136.93H464.26" stroke="#111" stroke-width="0.95"/>
<rect x="468.23" y="203.41" width="3.8" height="48.29" fill="url(#q42)" stroke="#111" stroke-width="1"/>
<path d="M470.13 203.41V202.41M469.13 202.41H471.13" stroke="#111" stroke-width="0.95"/>
<rect x="475.1" y="174.39" width="3.8" height="77.31" fill="url(#q43)" stroke="#111" stroke-width="1"/>
<path d="M477 174.39V173.39M476 173.39H478" stroke="#111" stroke-width="0.95"/>
<rect x="481.97" y="229.14" width="3.8" height="22.56" fill="url(#q44)" stroke="#111" stroke-width="1"/>
<path d="M483.87 229.14V228.14M482.87 228.14H484.87" stroke="#111" stroke-width="0.95"/>
<rect x="488.84" y="240.75" width="3.8" height="10.95" fill="url(#q45)" stroke="#111" stroke-width="1"/>
<path d="M463.26 72.1V57.1H490.74V235.25" stroke="#1a1a1a" stroke-width="0.9" fill="none"/>
<path d="M472.65 48.25V52.35M471.55 49L473.75 51.6M471.55 51.6L473.75 49" stroke="#0a0a0a" stroke-width="1.15" fill="none"/>
<path d="M476.5 48.25V52.35M475.4 49L477.6 51.6M475.4 51.6L477.6 49" stroke="#0a0a0a" stroke-width="1.15" fill="none"/>
<path d="M480.35 48.25V52.35M479.25 49L481.45 51.6M479.25 51.6L481.45 49" stroke="#0a0a0a" stroke-width="1.15" fill="none"/>
<path d="M463.26 83.1V78.6H483.87V222.14" stroke="#1a1a1a" stroke-width="0.9" fill="none"/>
<path d="M469.21 69.75V73.85M468.11 70.5L470.31 73.1M468.11 73.1L470.31 70.5" stroke="#0a0a0a" stroke-width="1.15" fill="none"/>
<path d="M473.06 69.75V73.85M471.96 70.5L474.17 73.1M471.96 73.1L474.17 70.5" stroke="#0a0a0a" stroke-width="1.15" fill="none"/>
<path d="M476.91 69.75V73.85M475.81 70.5L478.01 73.1M475.81 73.1L478.01 70.5" stroke="#0a0a0a" stroke-width="1.15" fill="none"/>
<path d="M463.26 105.3V100.8H477V167.39" stroke="#1a1a1a" stroke-width="0.9" fill="none"/>
<path d="M467.7 91.95V96.05M466.6 92.7L468.81 95.3M466.6 95.3L468.81 92.7" stroke="#0a0a0a" stroke-width="1.15" fill="none"/>
<path d="M471.56 91.95V96.05M470.45 92.7L472.66 95.3M470.45 95.3L472.66 92.7" stroke="#0a0a0a" stroke-width="1.15" fill="none"/>
<path d="M463.26 126.8V122.3H470.13V196.41" stroke="#1a1a1a" stroke-width="0.9" fill="none"/>
<path d="M462.34 113.45V117.55M461.24 114.2L463.44 116.8M461.24 116.8L463.44 114.2" stroke="#0a0a0a" stroke-width="1.15" fill="none"/>
<path d="M466.19 113.45V117.55M465.09 114.2L467.3 116.8M465.09 116.8L467.3 114.2" stroke="#0a0a0a" stroke-width="1.15" fill="none"/>
<path d="M470.04 113.45V117.55M468.94 114.2L471.14 116.8M468.94 116.8L471.14 114.2" stroke="#0a0a0a" stroke-width="1.15" fill="none"/>
<path d="M463.26 122.3V130.93" stroke="#1a1a1a" stroke-width="0.9" fill="none"/>
<path d="M477.5 251.7V255.6" stroke="#000" stroke-width="1.1"/>
<text x="477" y="264.2" font-size="7.6" font-weight="bold" text-anchor="middle" textLength="16.7" lengthAdjust="spacingAndGlyphs" fill="#111" stroke="#111" stroke-width="0.12">Week 1</text>
<rect x="500.06" y="141.87" width="3.8" height="109.83" fill="url(#q46)" stroke="#111" stroke-width="1"/>
<path d="M501.96 141.87V140.87M500.96 140.87H502.96" stroke="#111" stroke-width="0.95"/>
<rect x="506.93" y="209.54" width="3.8" height="42.16" fill="url(#q47)" stroke="#111" stroke-width="1"/>
<path d="M508.83 209.54V208.54M507.83 208.54H509.83" stroke="#111" stroke-width="0.95"/>
<rect x="513.8" y="177.46" width="3.8" height="74.24" fill="url(#q48)" stroke="#111" stroke-width="1"/>
<path d="M515.7 177.46V176.46M514.7 176.46H516.7" stroke="#111" stroke-width="0.95"/>
<rect x="520.67" y="233.3" width="3.8" height="18.4" fill="url(#q49)" stroke="#111" stroke-width="1"/>
<path d="M522.57 233.3V232.3M521.57 232.3H523.57" stroke="#111" stroke-width="0.95"/>
<rect x="527.54" y="240.75" width="3.8" height="10.95" fill="url(#q50)" stroke="#111" stroke-width="1"/>
<path d="M501.96 62.7V57.1H529.44V235.25" stroke="#1a1a1a" stroke-width="0.9" fill="none"/>
<path d="M509.43 48.25V52.35M508.33 49L510.53 51.6M508.33 51.6L510.53 49" stroke="#0a0a0a" stroke-width="1.15" fill="none"/>
<path d="M513.28 48.25V52.35M512.18 49L514.38 51.6M512.18 51.6L514.38 49" stroke="#0a0a0a" stroke-width="1.15" fill="none"/>
<path d="M517.13 48.25V52.35M516.03 49L518.23 51.6M516.03 51.6L518.23 49" stroke="#0a0a0a" stroke-width="1.15" fill="none"/>
<path d="M520.98 48.25V52.35M519.88 49L522.08 51.6M519.88 51.6L522.08 49" stroke="#0a0a0a" stroke-width="1.15" fill="none"/>
<path d="M501.96 83.1V78.6H522.57V226.3" stroke="#1a1a1a" stroke-width="0.9" fill="none"/>
<path d="M505.99 69.75V73.85M504.89 70.5L507.09 73.1M504.89 73.1L507.09 70.5" stroke="#0a0a0a" stroke-width="1.15" fill="none"/>
<path d="M509.84 69.75V73.85M508.74 70.5L510.94 73.1M508.74 73.1L510.94 70.5" stroke="#0a0a0a" stroke-width="1.15" fill="none"/>
<path d="M513.69 69.75V73.85M512.59 70.5L514.79 73.1M512.59 73.1L514.79 70.5" stroke="#0a0a0a" stroke-width="1.15" fill="none"/>
<path d="M517.54 69.75V73.85M516.44 70.5L518.64 73.1M516.44 73.1L518.64 70.5" stroke="#0a0a0a" stroke-width="1.15" fill="none"/>
<path d="M501.96 105.3V100.8H515.7V170.46" stroke="#1a1a1a" stroke-width="0.9" fill="none"/>
<path d="M504.48 91.95V96.05M503.38 92.7L505.58 95.3M503.38 95.3L505.58 92.7" stroke="#0a0a0a" stroke-width="1.15" fill="none"/>
<path d="M508.33 91.95V96.05M507.23 92.7L509.43 95.3M507.23 95.3L509.43 92.7" stroke="#0a0a0a" stroke-width="1.15" fill="none"/>
<path d="M512.18 91.95V96.05M511.08 92.7L513.28 95.3M511.08 95.3L513.28 92.7" stroke="#0a0a0a" stroke-width="1.15" fill="none"/>
<path d="M501.96 126.8V122.3H508.83V202.54" stroke="#1a1a1a" stroke-width="0.9" fill="none"/>
<path d="M499.12 113.45V117.55M498.02 114.2L500.22 116.8M498.02 116.8L500.22 114.2" stroke="#0a0a0a" stroke-width="1.15" fill="none"/>
<path d="M502.97 113.45V117.55M501.87 114.2L504.07 116.8M501.87 116.8L504.07 114.2" stroke="#0a0a0a" stroke-width="1.15" fill="none"/>
<path d="M506.82 113.45V117.55M505.72 114.2L507.92 116.8M505.72 116.8L507.92 114.2" stroke="#0a0a0a" stroke-width="1.15" fill="none"/>
<path d="M510.67 113.45V117.55M509.57 114.2L511.77 116.8M509.57 116.8L511.77 114.2" stroke="#0a0a0a" stroke-width="1.15" fill="none"/>
<path d="M501.96 122.3V134.87" stroke="#1a1a1a" stroke-width="0.9" fill="none"/>
<path d="M515.5 251.7V255.6" stroke="#000" stroke-width="1.1"/>
<text x="515.7" y="264.2" font-size="7.6" font-weight="bold" text-anchor="middle" textLength="16.7" lengthAdjust="spacingAndGlyphs" fill="#111" stroke="#111" stroke-width="0.12">Week 2</text>
<rect x="538.76" y="203.74" width="3.8" height="47.96" fill="url(#q51)" stroke="#111" stroke-width="1"/>
<path d="M540.66 203.74V202.74M539.66 202.74H541.66" stroke="#111" stroke-width="0.95"/>
<rect x="545.63" y="240.75" width="3.8" height="10.95" fill="url(#q52)" stroke="#111" stroke-width="1"/>
<path d="M547.53 240.75V239.75M546.53 239.75H548.53" stroke="#111" stroke-width="0.95"/>
<rect x="552.5" y="222.68" width="3.8" height="29.02" fill="url(#q53)" stroke="#111" stroke-width="1"/>
<path d="M554.4 222.68V221.68M553.4 221.68H555.4" stroke="#111" stroke-width="0.95"/>
<rect x="559.37" y="243.05" width="3.8" height="8.65" fill="url(#q54)" stroke="#111" stroke-width="1"/>
<path d="M561.27 243.05V242.05M560.27 242.05H562.27" stroke="#111" stroke-width="0.95"/>
<rect x="566.24" y="240.75" width="3.8" height="10.95" fill="url(#q55)" stroke="#111" stroke-width="1"/>
<path d="M540.66 62.7V57.1H568.14V235.25" stroke="#1a1a1a" stroke-width="0.9" fill="none"/>
<path d="M548.12 48.25V52.35M547.02 49L549.23 51.6M547.02 51.6L549.23 49" stroke="#0a0a0a" stroke-width="1.15" fill="none"/>
<path d="M551.98 48.25V52.35M550.88 49L553.08 51.6M550.88 51.6L553.08 49" stroke="#0a0a0a" stroke-width="1.15" fill="none"/>
<path d="M555.83 48.25V52.35M554.73 49L556.93 51.6M554.73 51.6L556.93 49" stroke="#0a0a0a" stroke-width="1.15" fill="none"/>
<path d="M559.67 48.25V52.35M558.57 49L560.77 51.6M558.57 51.6L560.77 49" stroke="#0a0a0a" stroke-width="1.15" fill="none"/>
<path d="M540.66 83.1V78.6H561.27V236.05" stroke="#1a1a1a" stroke-width="0.9" fill="none"/>
<path d="M544.69 69.75V73.85M543.59 70.5L545.79 73.1M543.59 73.1L545.79 70.5" stroke="#0a0a0a" stroke-width="1.15" fill="none"/>
<path d="M548.54 69.75V73.85M547.44 70.5L549.64 73.1M547.44 73.1L549.64 70.5" stroke="#0a0a0a" stroke-width="1.15" fill="none"/>
<path d="M552.39 69.75V73.85M551.29 70.5L553.49 73.1M551.29 73.1L553.49 70.5" stroke="#0a0a0a" stroke-width="1.15" fill="none"/>
<path d="M556.24 69.75V73.85M555.14 70.5L557.34 73.1M555.14 73.1L557.34 70.5" stroke="#0a0a0a" stroke-width="1.15" fill="none"/>
<path d="M540.66 105.3V100.8H554.4V215.68" stroke="#1a1a1a" stroke-width="0.9" fill="none"/>
<path d="M543.18 91.95V96.05M542.08 92.7L544.28 95.3M542.08 95.3L544.28 92.7" stroke="#0a0a0a" stroke-width="1.15" fill="none"/>
<path d="M547.03 91.95V96.05M545.93 92.7L548.13 95.3M545.93 95.3L548.13 92.7" stroke="#0a0a0a" stroke-width="1.15" fill="none"/>
<path d="M550.88 91.95V96.05M549.78 92.7L551.98 95.3M549.78 95.3L551.98 92.7" stroke="#0a0a0a" stroke-width="1.15" fill="none"/>
<path d="M540.66 126.8V122.3H547.53V233.75" stroke="#1a1a1a" stroke-width="0.9" fill="none"/>
<path d="M537.82 113.45V117.55M536.72 114.2L538.92 116.8M536.72 116.8L538.92 114.2" stroke="#0a0a0a" stroke-width="1.15" fill="none"/>
<path d="M541.67 113.45V117.55M540.57 114.2L542.77 116.8M540.57 116.8L542.77 114.2" stroke="#0a0a0a" stroke-width="1.15" fill="none"/>
<path d="M545.52 113.45V117.55M544.42 114.2L546.62 116.8M544.42 116.8L546.62 114.2" stroke="#0a0a0a" stroke-width="1.15" fill="none"/>
<path d="M549.37 113.45V117.55M548.27 114.2L550.47 116.8M548.27 116.8L550.47 114.2" stroke="#0a0a0a" stroke-width="1.15" fill="none"/>
<path d="M540.66 122.3V196.74" stroke="#1a1a1a" stroke-width="0.9" fill="none"/>
<path d="M554.5 251.7V255.6" stroke="#000" stroke-width="1.1"/>
<text x="554.4" y="264.2" font-size="7.6" font-weight="bold" text-anchor="middle" textLength="16.7" lengthAdjust="spacingAndGlyphs" fill="#111" stroke="#111" stroke-width="0.12">Week 3</text>
<rect x="577.46" y="232.76" width="3.8" height="18.94" fill="url(#q56)" stroke="#111" stroke-width="1"/>
<path d="M579.36 232.76V231.76M578.36 231.76H580.36" stroke="#111" stroke-width="0.95"/>
<rect x="584.33" y="242.5" width="3.8" height="9.2" fill="url(#q57)" stroke="#111" stroke-width="1"/>
<path d="M586.23 242.5V241.5M585.23 241.5H587.23" stroke="#111" stroke-width="0.95"/>
<rect x="591.2" y="241.95" width="3.8" height="9.75" fill="url(#q58)" stroke="#111" stroke-width="1"/>
<path d="M593.1 241.95V240.95M592.1 240.95H594.1" stroke="#111" stroke-width="0.95"/>
<rect x="598.07" y="245.57" width="3.8" height="6.13" fill="url(#q59)" stroke="#111" stroke-width="1"/>
<path d="M599.97 245.57V244.57M598.97 244.57H600.97" stroke="#111" stroke-width="0.95"/>
<rect x="604.94" y="240.75" width="3.8" height="10.95" fill="url(#q60)" stroke="#111" stroke-width="1"/>
<path d="M579.36 72.1V57.1H606.84V235.25" stroke="#1a1a1a" stroke-width="0.9" fill="none"/>
<path d="M592.6 48.25V52.35M591.5 49L593.7 51.6M591.5 51.6L593.7 49" stroke="#0a0a0a" stroke-width="1.15" fill="none"/>
<path d="M579.36 83.1V78.6H599.97V238.57" stroke="#1a1a1a" stroke-width="0.9" fill="none"/>
<path d="M587.24 69.75V73.85M586.14 70.5L588.34 73.1M586.14 73.1L588.34 70.5" stroke="#0a0a0a" stroke-width="1.15" fill="none"/>
<path d="M591.09 69.75V73.85M589.99 70.5L592.19 73.1M589.99 73.1L592.19 70.5" stroke="#0a0a0a" stroke-width="1.15" fill="none"/>
<path d="M579.36 105.3V100.8H593.1V234.95" stroke="#1a1a1a" stroke-width="0.9" fill="none"/>
<path d="M583.81 91.95V96.05M582.71 92.7L584.91 95.3M582.71 95.3L584.91 92.7" stroke="#0a0a0a" stroke-width="1.15" fill="none"/>
<path d="M587.66 91.95V96.05M586.56 92.7L588.76 95.3M586.56 95.3L588.76 92.7" stroke="#0a0a0a" stroke-width="1.15" fill="none"/>
<path d="M579.36 126.8V122.3H586.23V235.5" stroke="#1a1a1a" stroke-width="0.9" fill="none"/>
<path d="M580.37 113.45V117.55M579.27 114.2L581.47 116.8M579.27 116.8L581.47 114.2" stroke="#0a0a0a" stroke-width="1.15" fill="none"/>
<path d="M584.22 113.45V117.55M583.12 114.2L585.32 116.8M583.12 116.8L585.32 114.2" stroke="#0a0a0a" stroke-width="1.15" fill="none"/>
<path d="M579.36 122.3V225.76" stroke="#1a1a1a" stroke-width="0.9" fill="none"/>
<path d="M593.5 251.7V255.6" stroke="#000" stroke-width="1.1"/>
<text x="593.1" y="264.2" font-size="7.6" font-weight="bold" text-anchor="middle" textLength="16.7" lengthAdjust="spacingAndGlyphs" fill="#111" stroke="#111" stroke-width="0.12">Week 4</text>
<path d="M458.7 87.45V251.7H612.3" stroke="#111" stroke-width="1.1" fill="none"/>
<path d="M455.4 251.7H458.7" stroke="#111" stroke-width="1"/>
<text x="455.4" y="254.2" font-size="7" font-weight="bold" text-anchor="end" textLength="2.6" lengthAdjust="spacingAndGlyphs" fill="#111" stroke="#111" stroke-width="0.15">0</text>
<path d="M455.4 196.95H458.7" stroke="#111" stroke-width="1"/>
<text x="455.4" y="199.45" font-size="7" font-weight="bold" text-anchor="end" textLength="2.6" lengthAdjust="spacingAndGlyphs" fill="#111" stroke="#111" stroke-width="0.15">5</text>
<path d="M455.4 142.2H458.7" stroke="#111" stroke-width="1"/>
<text x="455.4" y="144.7" font-size="7" font-weight="bold" text-anchor="end" textLength="5.2" lengthAdjust="spacingAndGlyphs" fill="#111" stroke="#111" stroke-width="0.15">10</text>
<path d="M455.4 87.45H458.7" stroke="#111" stroke-width="1"/>
<text x="455.4" y="89.95" font-size="7" font-weight="bold" text-anchor="end" textLength="5.2" lengthAdjust="spacingAndGlyphs" fill="#111" stroke="#111" stroke-width="0.15">15</text>
<path d="M456.9 240.75H458.7" stroke="#111" stroke-width="1"/>
<path d="M456.9 229.8H458.7" stroke="#111" stroke-width="1"/>
<path d="M456.9 218.85H458.7" stroke="#111" stroke-width="1"/>
<path d="M456.9 207.9H458.7" stroke="#111" stroke-width="1"/>
<path d="M456.9 186H458.7" stroke="#111" stroke-width="1"/>
<path d="M456.9 175.05H458.7" stroke="#111" stroke-width="1"/>
<path d="M456.9 164.1H458.7" stroke="#111" stroke-width="1"/>
<path d="M456.9 153.15H458.7" stroke="#111" stroke-width="1"/>
<path d="M456.9 131.25H458.7" stroke="#111" stroke-width="1"/>
<path d="M456.9 120.3H458.7" stroke="#111" stroke-width="1"/>
<path d="M456.9 109.35H458.7" stroke="#111" stroke-width="1"/>
<path d="M456.9 98.4H458.7" stroke="#111" stroke-width="1"/>
<text transform="translate(446.9 169.1) rotate(-90)" x="0" y="0" font-size="7.8" font-weight="bold" text-anchor="middle" textLength="93" lengthAdjust="spacingAndGlyphs" fill="#111" stroke="#111" stroke-width="0.12">Fold change of PDGFA</text>
<rect x="626.7" y="91.9" width="5.6" height="4.2" fill="#9a9a9a" stroke="#151515" stroke-width="1.5"/>
<text x="636.6" y="96.9" font-size="8.4" textLength="44.7" lengthAdjust="spacingAndGlyphs" fill="#222" stroke="#222" stroke-width="0.08">Medicated Formula</text>
<rect x="626.7" y="105.85" width="5.6" height="4.2" fill="#1c1c1c" stroke="#151515" stroke-width="1.5"/>
<path d="M627.6 107.35L628.6 108.65L629.6 107.35L630.6 108.65L631.6 107.35" stroke="#fff" stroke-width="0.8" fill="none"/>
<text x="636.6" y="110.85" font-size="8.4" textLength="32.3" lengthAdjust="spacingAndGlyphs" fill="#222" stroke="#222" stroke-width="0.08">Plain Formula</text>
<rect x="626.7" y="119.8" width="5.6" height="4.2" fill="#ffffff" stroke="#151515" stroke-width="1.5"/>
<text x="636.6" y="124.8" font-size="8.4" textLength="48.6" lengthAdjust="spacingAndGlyphs" fill="#222" stroke="#222" stroke-width="0.08">Vancomycin Solution</text>
<rect x="626.7" y="133.75" width="5.6" height="4.2" fill="#e0e0e0" stroke="#151515" stroke-width="1.5"/>
<path d="M627.5 135.85H631.9" stroke="#888" stroke-width="0.7"/>
<text x="636.6" y="138.75" font-size="8.4" textLength="12.4" lengthAdjust="spacingAndGlyphs" fill="#222" stroke="#222" stroke-width="0.08">C+ve</text>
<rect x="626.7" y="147.7" width="5.6" height="4.2" fill="#a8a8a8" stroke="#151515" stroke-width="1.5"/>
<text x="636.6" y="152.7" font-size="8.4" textLength="11.0" lengthAdjust="spacingAndGlyphs" fill="#222" stroke="#222" stroke-width="0.08">C-ve</text>
</svg></body></html>
